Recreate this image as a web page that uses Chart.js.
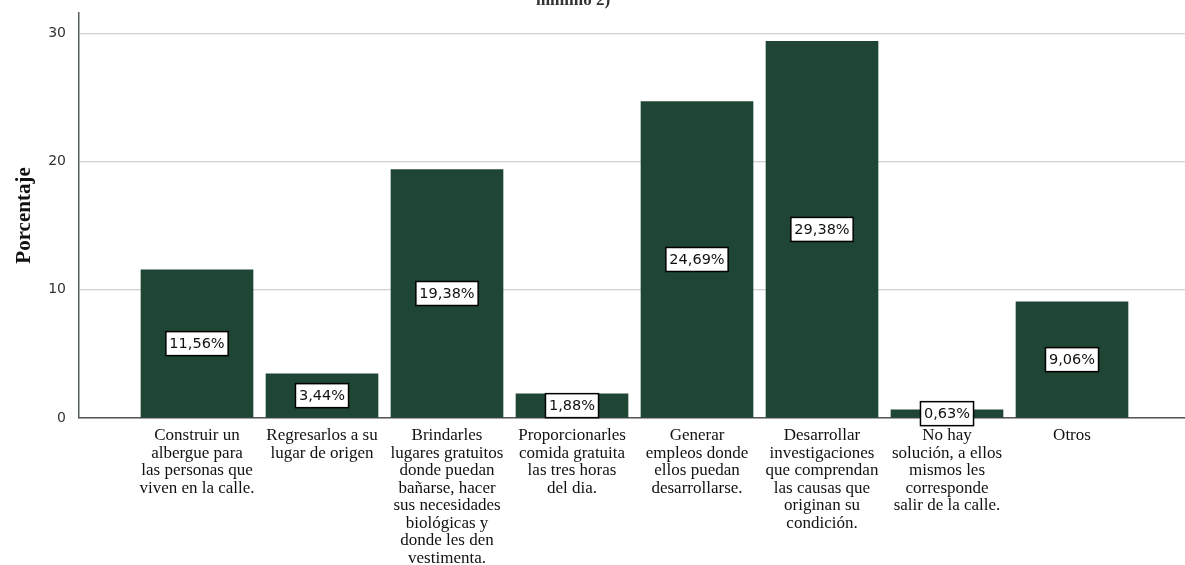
<!DOCTYPE html>
<html>
<head>
<meta charset="utf-8">
<script src="https://cdn.jsdelivr.net/npm/chart.js"></script>
<style>
  html, body { margin: 0; padding: 0; background: #fff; }
</style>
</head>
<body>
<canvas id="solucionesChart" width="1185" height="565"></canvas>

<script>
// categorias (texto de cada barra, en lineas)
const categorias = [
    ['Construir un', 'albergue para', 'las personas que', 'viven en la calle.'],
    ['Regresarlos a su', 'lugar de origen'],
    ['Brindarles', 'lugares gratuitos', 'donde puedan', 'bañarse, hacer', 'sus necesidades', 'biológicas y', 'donde les den', 'vestimenta.'],
    ['Proporcionarles', 'comida gratuita', 'las tres horas', 'del dia.'],
    ['Generar', 'empleos donde', 'ellos puedan', 'desarrollarse.'],
    ['Desarrollar', 'investigaciones', 'que comprendan', 'las causas que', 'originan su', 'condición.'],
    ['No hay', 'solución, a ellos', 'mismos les', 'corresponde', 'salir de la calle.'],
    ['Otros']
];
const porcentajes = [11.56, 3.44, 19.38, 1.88, 24.69, 29.38, 0.63, 9.06];
const ticksY = [0, 10, 20, 30];
const tituloCortado = 'mínimo 2)';

const verde = '#1f4634';

// etiquetas blancas con borde negro en el centro de cada barra
const etiquetasBarras = {
    id: 'etiquetasBarras',
    afterDatasetsDraw(chart) {
        const ctx = chart.ctx;
        const meta = chart.getDatasetMeta(0);
        ctx.save();
        ctx.font = '14.5px "DejaVu Sans"';
        ctx.textAlign = 'center';
        ctx.textBaseline = 'middle';
        meta.data.forEach((bar, i) => {
            const txt = porcentajes[i].toFixed(2).replace('.', ',') + '%';
            const cy = (bar.y + bar.base) / 2;
            const w = ctx.measureText(txt).width + 7;
            const h = 24;
            ctx.fillStyle = '#fff';
            ctx.fillRect(bar.x - w / 2, cy - h / 2, w, h);
            ctx.strokeStyle = '#000';
            ctx.lineWidth = 1.5;
            ctx.strokeRect(bar.x - w / 2, cy - h / 2, w, h);
            ctx.fillStyle = '#111';
            ctx.fillText(txt, bar.x, cy + 1);
        });
        ctx.restore();
    }
};

// resto del titulo, cortado arriba en la imagen
const tituloArriba = {
    id: 'tituloArriba',
    afterDraw(chart) {
        const ctx = chart.ctx;
        ctx.save();
        ctx.font = 'bold 17px "Liberation Serif"';
        ctx.textAlign = 'center';
        ctx.textBaseline = 'alphabetic';
        ctx.fillStyle = '#333';
        ctx.fillText(tituloCortado, 573, 5);
        ctx.restore();
    }
};

const ctx = document.getElementById('solucionesChart').getContext('2d');
new Chart(ctx, {
    type: 'bar',
    data: {
        datasets: [{
            label: 'Porcentaje',
            data: porcentajes.map((v, i) => ({ x: i, y: v })),
            backgroundColor: verde,
            barThickness: 112
        }]
    },
    options: {
        responsive: false,
        animation: false,
        layout: { padding: { top: 13, right: 0, left: 0, bottom: 0 } },
        scales: {
            x: {
                type: 'linear',
                offset: false,
                min: -0.944,
                max: 7.904,
                afterBuildTicks: axis => { axis.ticks = categorias.map((c, i) => ({ value: i })); },
                afterFit: axis => {
                    axis.height = 147;
                    axis.paddingLeft = 0;
                    axis.paddingRight = 0;
                },
                grid: { display: false, drawTicks: false, offset: false },
                border: { display: true, color: '#555', width: 1.5 },
                ticks: {
                    autoSkip: false,
                    maxRotation: 0,
                    padding: 9,
                    color: '#111',
                    font: { family: '"Liberation Serif"', size: 17, lineHeight: 1.03 },
                    callback: (value) => categorias[value]
                }
            },
            y: {
                min: 0,
                max: 31.6,
                afterBuildTicks: axis => { axis.ticks = ticksY.map(v => ({ value: v })); },
                afterFit: axis => {
                    axis.width = 79;
                    axis.paddingTop = 0;
                    axis.paddingBottom = 0;
                },
                grid: { color: '#cfcfcf', lineWidth: 1.2, drawTicks: false },
                border: { display: true, color: '#55605a', width: 1.5 },
                ticks: {
                    padding: 13,
                    color: '#333',
                    font: { family: '"DejaVu Sans"', size: 14 }
                },
                title: {
                    display: true,
                    text: 'Porcentaje',
                    color: '#111',
                    padding: { top: 12, bottom: 0 },
                    font: { family: '"Liberation Serif"', size: 21, weight: 'bold' }
                }
            }
        },
        plugins: {
            legend: { display: false },
            tooltip: { enabled: false }
        }
    },
    plugins: [etiquetasBarras, tituloArriba]
});
</script>
</body>
</html>
